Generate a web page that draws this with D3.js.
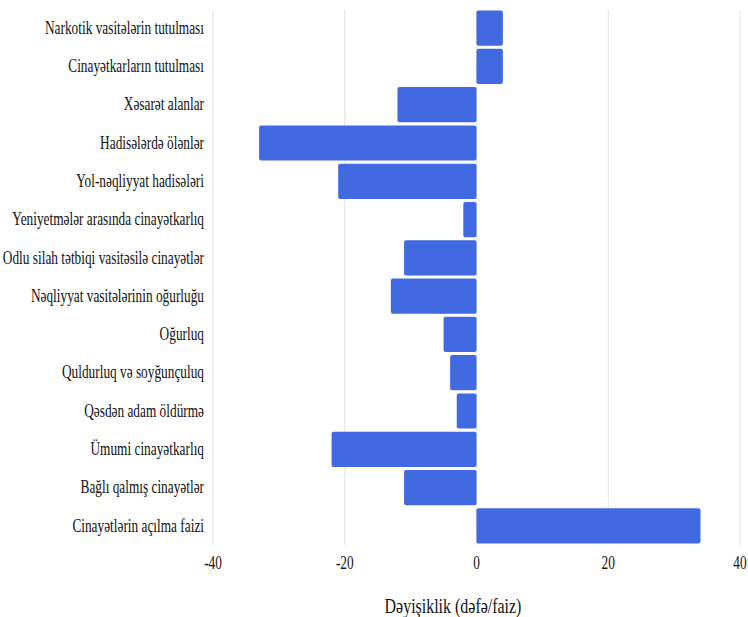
<!DOCTYPE html>
<html>
<head>
<meta charset="utf-8">
<script src="https://cdn.jsdelivr.net/npm/d3@7"></script>
<style>
  html, body { margin: 0; padding: 0; background: #fff; }
  svg { display: block; }
</style>
</head>
<body>
<svg id="chart" width="748" height="617"></svg>
<script>
const categories = [
  "Narkotik vasitələrin tutulması",
  "Cinayətkarların tutulması",
  "Xəsarət alanlar",
  "Hadisələrdə ölənlər",
  "Yol-nəqliyyat hadisələri",
  "Yeniyetmələr arasında cinayətkarlıq",
  "Odlu silah tətbiqi vasitəsilə cinayətlər",
  "Nəqliyyat vasitələrinin oğurluğu",
  "Oğurluq",
  "Quldurluq və soyğunçuluq",
  "Qəsdən adam öldürmə",
  "Ümumi cinayətkarlıq",
  "Bağlı qalmış cinayətlər",
  "Cinayətlərin açılma faizi"
];
const values = [4, 4, -12, -33, -21, -2, -11, -13, -5, -4, -3, -22, -11, 34];
const xTicks = [-40, -20, 0, 20, 40];
const xTitle = "Dəyişiklik (dəfə/faiz)";

const svg = d3.select("#chart");
const SX = 0.74;
const FONT = "Liberation Serif";

const x = d3.scaleLinear().domain([-40, 40]).range([213, 740]);
const y = d3.scaleBand().domain(categories).range([9, 545]).paddingInner(0.08).paddingOuter(0.04);

// gridlines
svg.append("g").selectAll("line").data(xTicks).join("line")
  .attr("x1", d => x(d)).attr("x2", d => x(d))
  .attr("y1", 10).attr("y2", 545)
  .attr("stroke", "#e3e3e3").attr("stroke-width", 1);

// bars
svg.append("g").selectAll("rect").data(categories).join("rect")
  .attr("x", (c, i) => Math.min(x(0), x(values[i])))
  .attr("width", (c, i) => Math.abs(x(values[i]) - x(0)))
  .attr("y", c => y(c))
  .attr("height", y.bandwidth())
  .attr("rx", 2)
  .attr("fill", "#4169E1");

// y labels
svg.append("g").selectAll("text").data(categories).join("text")
  .attr("transform", c => `translate(204,${y(c) + y.bandwidth() / 2}) scale(${SX},1)`)
  .attr("text-anchor", "end")
  .attr("dy", "0.32em")
  .attr("font-family", FONT)
  .attr("font-size", 18)
  .attr("fill", "#111")
  .text(c => c);

// x tick labels
svg.append("g").selectAll("text").data(xTicks).join("text")
  .attr("transform", d => `translate(${x(d)},563) scale(${SX},1)`)
  .attr("text-anchor", "middle")
  .attr("dy", "0.32em")
  .attr("font-family", FONT)
  .attr("font-size", 18)
  .attr("fill", "#111")
  .text(d => d);

// x title
svg.append("text")
  .attr("transform", `translate(453,606) scale(0.76,1)`)
  .attr("text-anchor", "middle")
  .attr("dy", "0.32em")
  .attr("font-family", FONT)
  .attr("font-size", 21)
  .attr("fill", "#111")
  .text(xTitle);
</script>
</body>
</html>
